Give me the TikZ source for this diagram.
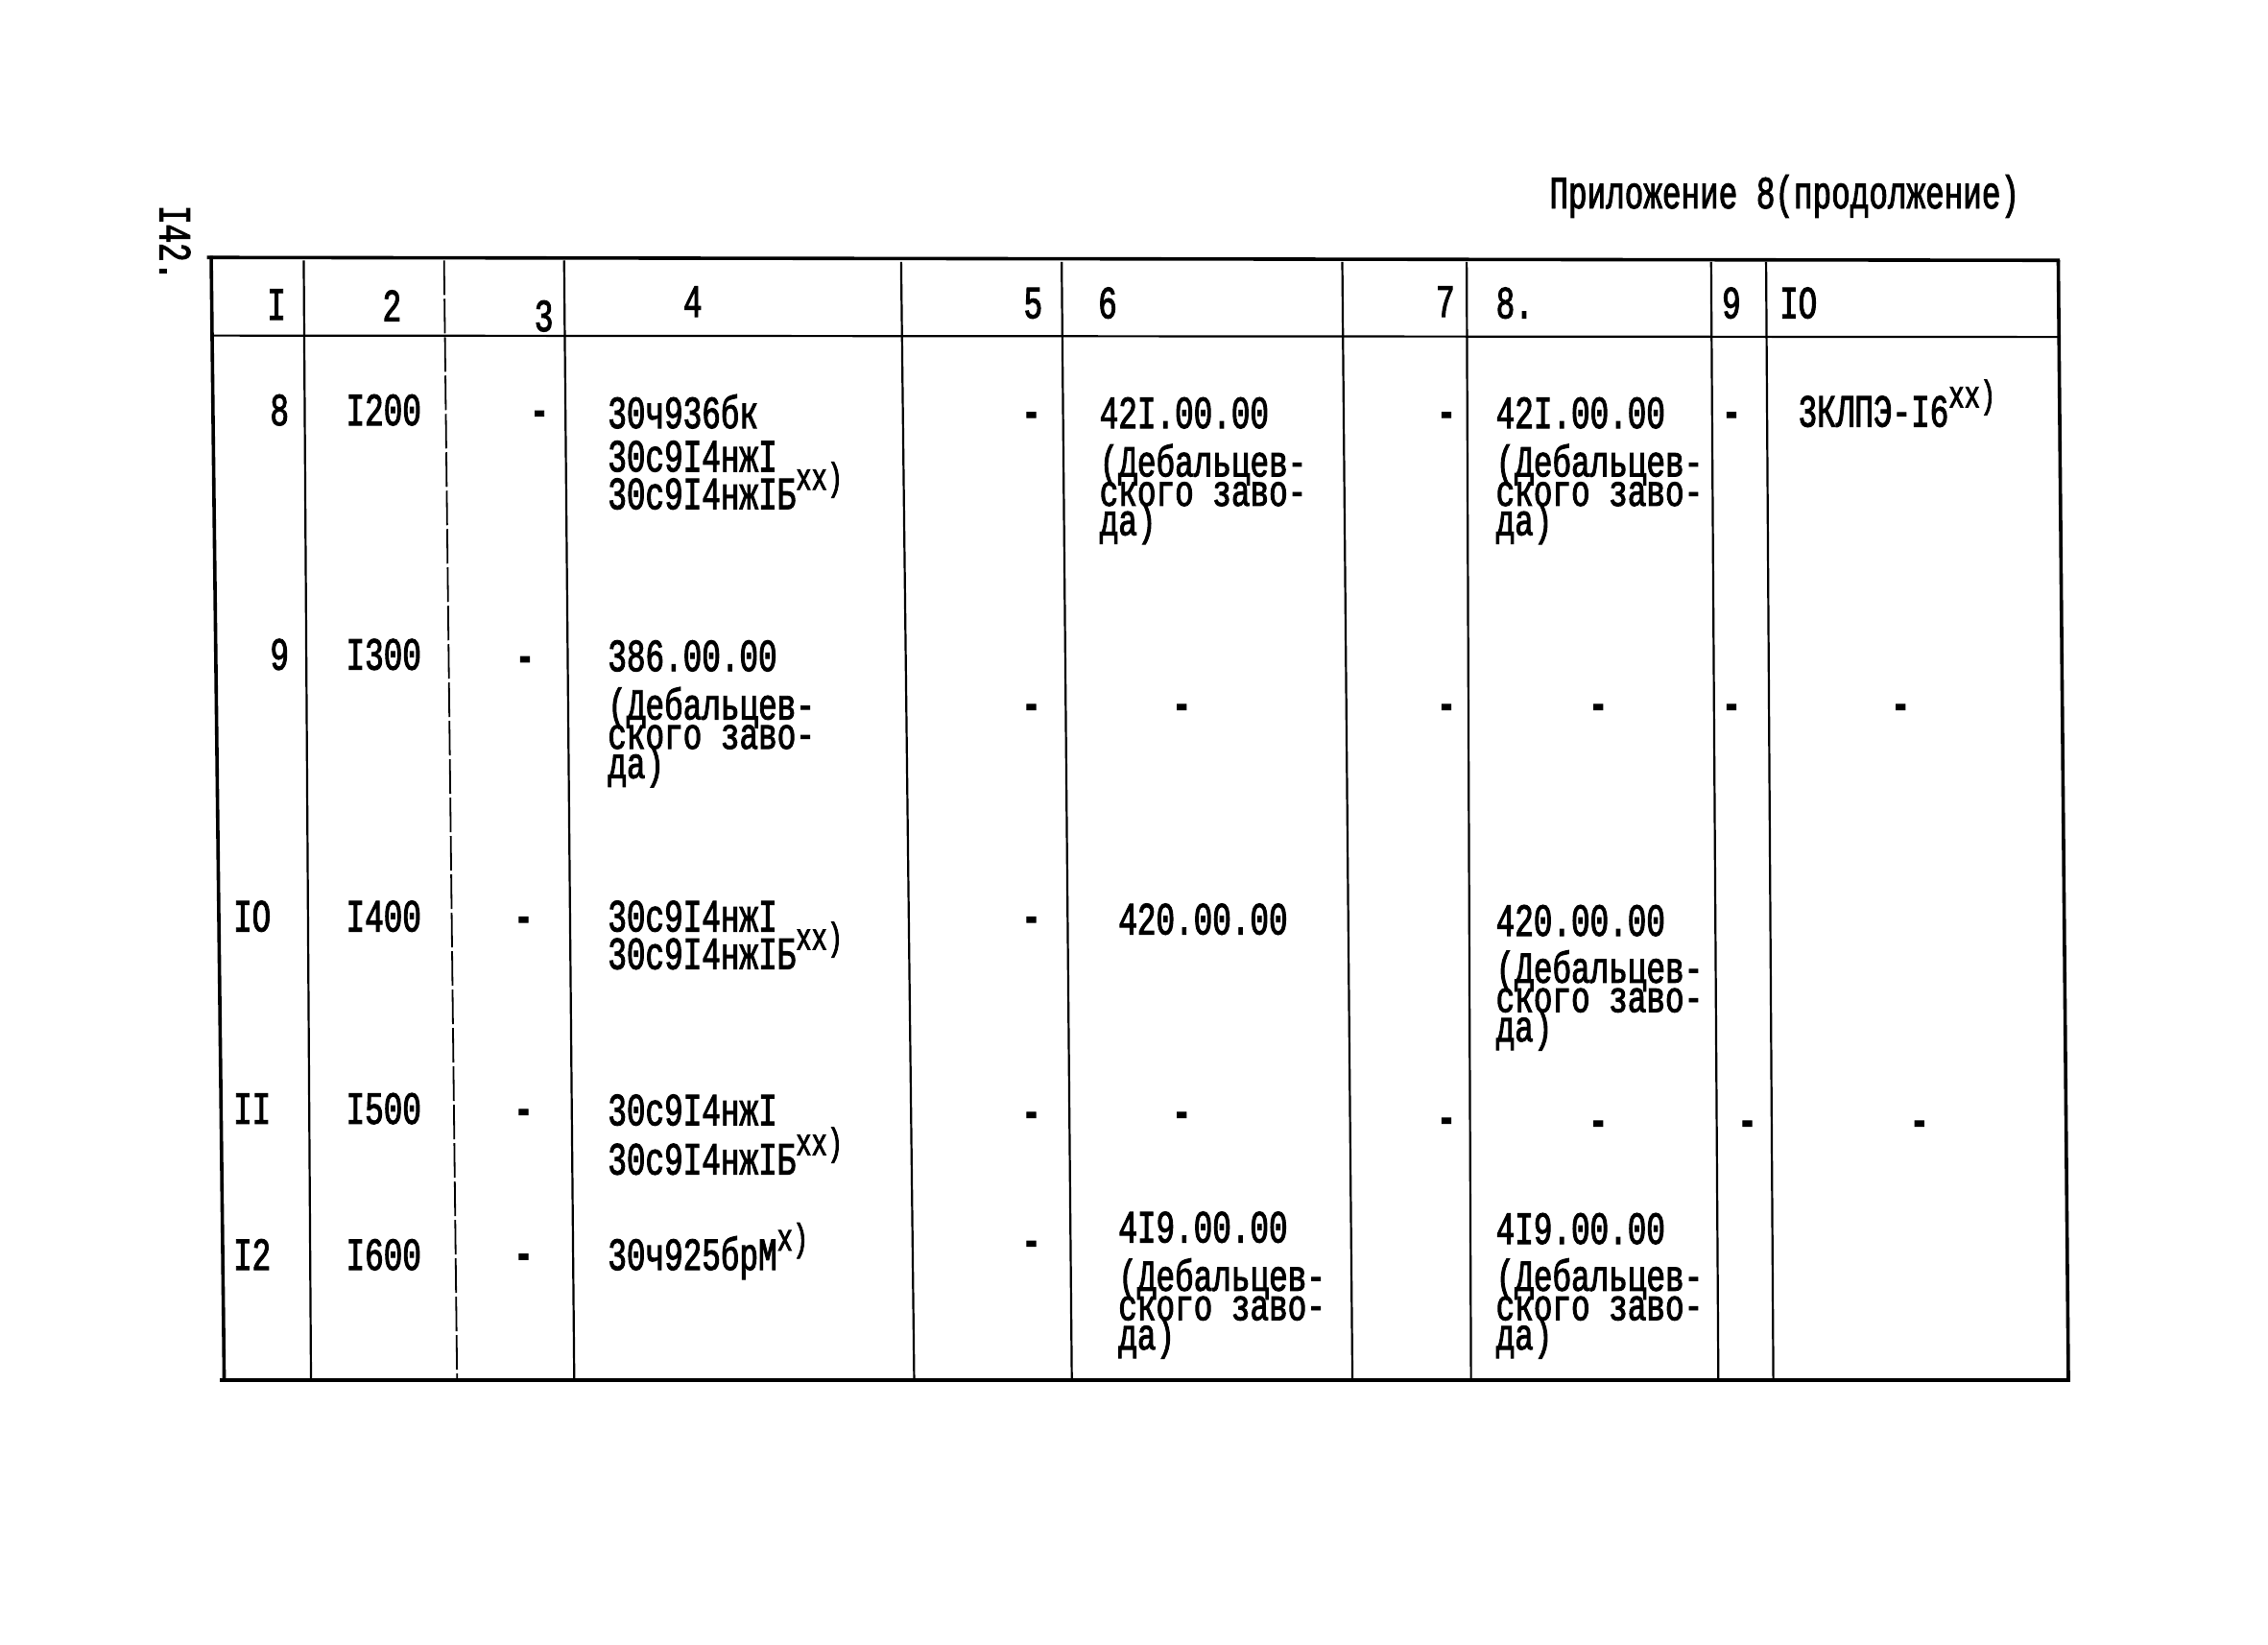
\documentclass[tikz,border=0pt]{standalone}
\usepackage{fontspec}
\newfontfamily\tw[FakeStretch=0.68,FakeBold=2]{Liberation Mono}
\newfontfamily\twb[FakeStretch=0.71,FakeBold=2]{Liberation Mono}
\newcommand\supx[1]{\raisebox{0.42em}{\fontsize{20}{20}\selectfont #1}}
\begin{document}
\begin{tikzpicture}[x=0.7535pt,y=-0.7535pt,
 t/.style={inner sep=0pt, font=\tw\fontsize{24}{19}\selectfont},
 tl/.style={t,anchor=base west},
 tr/.style={t,anchor=base east},
 tc/.style={t,anchor=base},
 blk/.style={inner sep=0pt, anchor=base west, align=left,
   font={\twb\fontsize{23}{15.3}\selectfont\lineskiplimit=-\maxdimen}},
 dsh/.style={t,anchor=mid,font=\tw\bfseries\fontsize{24}{19}\selectfont,yshift=-4pt},
 border/.style={line width=1.8pt},
 rule/.style={line width=1.1pt},
 brk/.style={line width=0.9pt,dash pattern=on 18pt off 2pt}]
\fill[white] (0,0) rectangle (1568,1137);
\useasboundingbox (0,0) rectangle (1568,1137);
% grid coordinates
\coordinate (t1) at (146,177); \coordinate (b1) at (155,955);
\coordinate (t2) at (210,180); \coordinate (b2) at (215,953);
\coordinate (t3) at (307,180); \coordinate (b3) at (316,953);
\coordinate (t4) at (390,180); \coordinate (b4) at (397,953);
\coordinate (t5) at (623,181); \coordinate (b5) at (632,953);
\coordinate (t6) at (734,181); \coordinate (b6) at (741,953);
\coordinate (t7) at (928,181); \coordinate (b7) at (935,953);
\coordinate (t8) at (1014,181); \coordinate (b8) at (1017,953);
\coordinate (t9) at (1183,181); \coordinate (b9) at (1188,953);
\coordinate (t10) at (1221,181); \coordinate (b10) at (1226,953);
\coordinate (t11) at (1423,180); \coordinate (b11) at (1430,955);
\coordinate (hl) at (143,178); \coordinate (hr) at (1424,180);
\coordinate (ml) at (146,232); \coordinate (mr) at (1423,233);
\coordinate (ll) at (152,954); \coordinate (lr) at (1431,954);
\draw[border] (hl) -- (hr);
\draw[rule] (ml) -- (mr);
\draw[line width=2.2pt] (ll) -- (lr);
\draw[border] (t1) -- (b1);
\draw[border] (t11) -- (b11);
\draw[rule] (t2) -- (b2);
\draw[brk] (t3) -- (b3);
\draw[rule] (t4) -- (b4);
\draw[rule] (t5) -- (b5);
\draw[rule] (t6) -- (b6);
\draw[rule] (t7) -- (b7);
\draw[rule] (t8) -- (b8);
\draw[rule] (t9) -- (b9);
\draw[rule] (t10) -- (b10);
% title and page number
\node[tl] (title) at (1071,144) {Приложение 8(продолжение)};
\node[t,rotate=-90,anchor=center] (page) at (121,168) {I42.};
% header
\node[tr] (h1) at (198,221) {I};
\node[tc] (h2) at (271,222) {2};
\node[tc] (h3) at (376,229) {3};
\node[tc] (h4) at (479,219) {4};
\node[tr] (h5) at (721,220) {5};
\node[tl] (h6) at (759,220) {6};
\node[tr] (h7) at (1006,219) {7};
\node[tl] (h8) at (1034,220) {8.};
\node[tc] (h9) at (1197,220) {9};
\node[tl] (h10) at (1230,220) {IO};
% row 8
\node[tr] (r8c1) at (200,294) {8};
\node[tl] (r8c2) at (239,294) {I200};
\node[dsh] (r8c3) at (373,286) {-};
\node[tl] (r8c4a) at (420,296) {30ч936бк};
\node[tl] (r8c4b) at (420,326) {30с9I4нжI};
\node[tl] (r8c4c) at (420,352) {30с9I4нжIБ\supx{xx)}};
\node[dsh] (r8c5) at (713,287) {-};
\node[tl] (r8c6a) at (760,296) {42I.00.00};
\node[blk] (r8c6b) at (760,370) {(Дебальцев-\\ского заво-\\да)};
\node[dsh] (r8c7) at (1000,287) {-};
\node[tl] (r8c8a) at (1034,296) {42I.00.00};
\node[blk] (r8c8b) at (1034,370) {(Дебальцев-\\ского заво-\\да)};
\node[dsh] (r8c9) at (1197,287) {-};
\node[tl] (r8c10) at (1243,295) {3КЛПЭ-I6\supx{xx)}};
% row 9
\node[tr] (r9c1) at (200,463) {9};
\node[tl] (r9c2) at (239,463) {I300};
\node[dsh] (r9c3) at (363,456) {-};
\node[tl] (r9c4a) at (420,464) {386.00.00};
\node[blk] (r9c4b) at (420,538) {(Дебальцев-\\ского заво-\\да)};
\node[dsh] (r9c5) at (713,489) {-};
\node[dsh] (r9c6) at (817,489) {-};
\node[dsh] (r9c7) at (1000,489) {-};
\node[dsh] (r9c8) at (1105,489) {-};
\node[dsh] (r9c9) at (1197,489) {-};
\node[dsh] (r9c10) at (1314,489) {-};
% row 10
\node[tl] (r10c1) at (161,644) {IO};
\node[tl] (r10c2) at (239,644) {I400};
\node[dsh] (r10c3) at (362,636) {-};
\node[tl] (r10c4a) at (420,644) {30с9I4нжI};
\node[tl] (r10c4b) at (420,670) {30с9I4нжIБ\supx{xx)}};
\node[dsh] (r10c5) at (713,636) {-};
\node[tl] (r10c6) at (773,646) {420.00.00};
\node[tl] (r10c8a) at (1034,647) {420.00.00};
\node[blk] (r10c8b) at (1034,720) {(Дебальцев-\\ского заво-\\да)};
% row 11
\node[tl] (r11c1) at (161,777) {II};
\node[tl] (r11c2) at (239,777) {I500};
\node[dsh] (r11c3) at (362,769) {-};
\node[tl] (r11c4a) at (420,778) {30с9I4нжI};
\node[tl] (r11c4b) at (420,812) {30с9I4нжIБ\supx{xx)}};
\node[dsh] (r11c5) at (713,771) {-};
\node[dsh] (r11c6) at (817,771) {-};
\node[dsh] (r11c7) at (1000,775) {-};
\node[dsh] (r11c8) at (1105,777) {-};
\node[dsh] (r11c9) at (1208,777) {-};
\node[dsh] (r11c10) at (1327,777) {-};
% row 12
\node[tl] (r12c1) at (161,878) {I2};
\node[tl] (r12c2) at (239,878) {I600};
\node[dsh] (r12c3) at (362,869) {-};
\node[tl] (r12c4) at (420,878) {30ч925брМ\supx{x)}};
\node[dsh] (r12c5) at (713,860) {-};
\node[tl] (r12c6a) at (773,859) {4I9.00.00};
\node[blk] (r12c6b) at (773,933) {(Дебальцев-\\ского заво-\\да)};
\node[tl] (r12c8a) at (1034,860) {4I9.00.00};
\node[blk] (r12c8b) at (1034,933) {(Дебальцев-\\ского заво-\\да)};
\end{tikzpicture}
\end{document}
